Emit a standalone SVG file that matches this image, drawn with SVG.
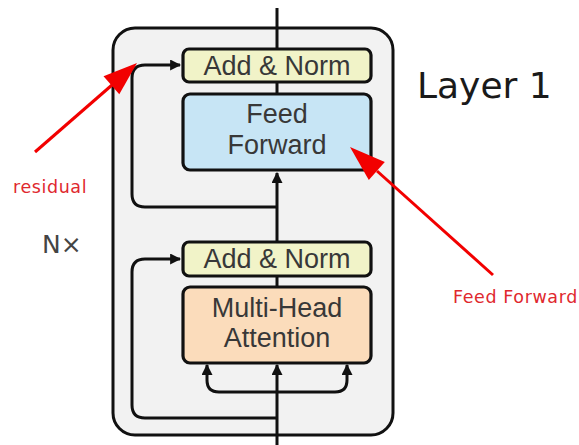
<svg xmlns="http://www.w3.org/2000/svg" width="579" height="445" viewBox="0 0 579 445">
<style>
.box{stroke:#111;stroke-width:3.2}
.lbl{font-family:"Liberation Sans",Arial,sans-serif;font-size:27px;fill:#383838;text-anchor:middle}
.conn{fill:none;stroke:#111;stroke-width:3}
.red{stroke:#f20000;stroke-width:3;fill:none}
.redhead{fill:#f20000}
.note{font-family:"DejaVu Sans",sans-serif;font-size:17.5px;fill:#e0282e;letter-spacing:0.6px}
</style>
<defs>
<marker id="ah" viewBox="0 0 10 10" refX="9" refY="5" markerWidth="11" markerHeight="11" markerUnits="userSpaceOnUse" orient="auto">
<path d="M0,0 L10,5 L0,10 z" fill="#111"/>
</marker>
</defs>
<rect width="579" height="445" fill="#fff"/>
<g id="layer">
<rect x="113" y="28" width="280" height="407" rx="22" fill="#f2f2f2" stroke="#111" stroke-width="3"/>
</g>
<g id="connectors">
<path class="conn" d="M277,8 V49"/>
<path class="conn" d="M277,82 V93"/>
<path class="conn" d="M277,242 V173" marker-end="url(#ah)"/>
<path class="conn" d="M277,277 V287"/>
<path class="conn" d="M277,445 V365" marker-end="url(#ah)"/>
<path class="conn" d="M277,392 H219 Q207,392 207,380 V365" marker-end="url(#ah)"/>
<path class="conn" d="M277,392 H335 Q347,392 347,380 V365" marker-end="url(#ah)"/>
<path class="conn" d="M277,207 H145 Q132,207 132,194 V78 Q132,65 145,65 H180" marker-end="url(#ah)"/>
<path class="conn" d="M277,418 H145 Q132,418 132,405 V272 Q132,259 145,259 H180" marker-end="url(#ah)"/>
</g>
<g id="addnorm1">
<rect class="box" x="183" y="49" width="188" height="33" rx="6" fill="#f1f3c8"/>
<text class="lbl" x="277" y="75">Add &amp; Norm</text>
</g>
<g id="feedforward">
<rect class="box" x="183" y="94" width="188" height="76" rx="7" fill="#c7e5f5"/>
<text class="lbl" x="277" y="123">Feed</text>
<text class="lbl" x="277" y="154">Forward</text>
</g>
<g id="addnorm2">
<rect class="box" x="183" y="242" width="188" height="34" rx="6" fill="#f1f3c8"/>
<text class="lbl" x="277" y="268">Add &amp; Norm</text>
</g>
<g id="attention">
<rect class="box" x="183" y="287" width="188" height="76" rx="7" fill="#fbdcbb"/>
<text class="lbl" x="277" y="317">Multi-Head</text>
<text class="lbl" x="277" y="347">Attention</text>
</g>
<g id="labels">
<text x="417" y="98" font-family="'DejaVu Sans',sans-serif" font-size="36" fill="#1a1a1a">Layer 1</text>
<text x="42" y="253" font-family="'DejaVu Sans',sans-serif" font-size="25" fill="#444">N×</text>
</g>
<g id="residual-note">
<line class="red" x1="35" y1="152" x2="112" y2="85"/>
<polygon class="redhead" points="137,63 119.3,94.3 103.5,76.3"/>
<text class="note" x="13" y="193">residual</text>
</g>
<g id="ff-note">
<line class="red" x1="493" y1="275" x2="377" y2="171"/>
<polygon class="redhead" points="350,147 384.8,162.1 368.8,179.9"/>
<text class="note" x="453" y="303">Feed Forward</text>
</g>
</svg>
